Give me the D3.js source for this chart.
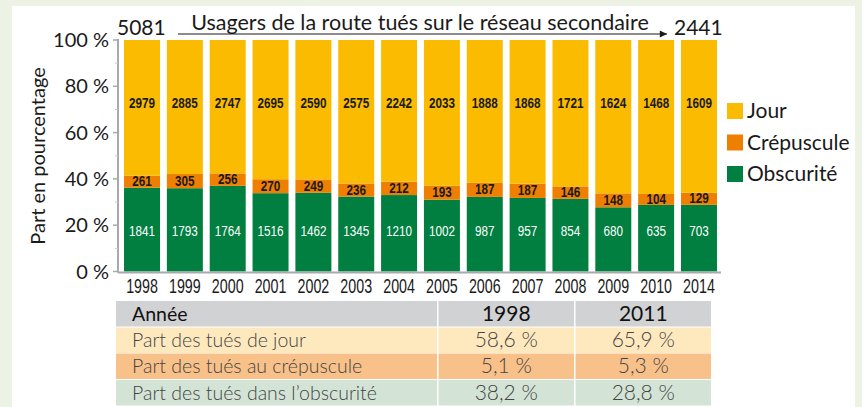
<!DOCTYPE html>
<html>
<head>
<meta charset="utf-8">
<script src="https://cdn.jsdelivr.net/npm/d3@7"></script>
<style>
  body { margin: 0; background: #ecf3e5; }
  svg { display: block; font-family: Lato, "Open Sans", sans-serif; }
</style>
</head>
<body>
<div id="chart"></div>
<script>
// counts of people killed on secondary roads, by light conditions
let years = ['1998','1999','2000','2001','2002','2003','2004','2005','2006','2007','2008','2009','2010','2014'];
let jour = [2979, 2885, 2747, 2695, 2590, 2575, 2242, 2033, 1888, 1868, 1721, 1624, 1468, 1609];
let crepuscule = [261, 305, 256, 270, 249, 236, 212, 193, 187, 187, 146, 148, 104, 129];
let obscurite = [1841, 1793, 1764, 1516, 1462, 1345, 1210, 1002, 987, 957, 854, 680, 635, 703];

let legendLabels = ['Jour', 'Crépuscule', 'Obscurité'];
let yTicks = [0, 20, 40, 60, 80, 100];
let yMinorTicks = [10, 30, 50, 70, 90];

let tableHeader = ['Année', '1998', '2011'];
let tableLabels = ['Part des tués de jour', 'Part des tués au crépuscule', 'Part des tués dans l\u2019obscurité'];
let table1998 = ['58,6 %', '5,1 %', '38,2 %'];
let table2011 = ['65,9 %', '5,3 %', '28,8 %'];

let title = 'Usagers de la route tués sur le réseau secondaire';

let width = 862;
let height = 407;
let colors = ['#fabb00', '#ee7f00', '#007f40'];
let rowColors = ['#fee9bf', '#f8c18a', '#d3e4d6'];
let narrow = '"Liberation Sans Narrow", "Liberation Sans", sans-serif';

let svg = d3.select('#chart')
  .append('svg')
  .attr('width', width)
  .attr('height', height);

// white panel
svg.append('rect')
  .attr('x', 12).attr('y', 6)
  .attr('width', 843).attr('height', 410)
  .style('fill', '#ffffff');

// stack the data as percentages
let rows = years.map((y, i) => {
  let total = jour[i] + crepuscule[i] + obscurite[i];
  return {
    year: y, total: total,
    obscurite: obscurite[i] / total * 100,
    crepuscule: crepuscule[i] / total * 100,
    jour: jour[i] / total * 100,
    counts: [obscurite[i], crepuscule[i], jour[i]]
  };
});

let keys = ['obscurite', 'crepuscule', 'jour'];
let stack = d3.stack().keys(keys)(rows);

let x = d3.scaleBand()
  .domain(years)
  .range([120.6, 720.4])
  .paddingInner(0.16)
  .paddingOuter(0.08);

let y = d3.scaleLinear()
  .domain([0, 100])
  .range([271.5, 40]);

let segColor = { obscurite: colors[2], crepuscule: colors[1], jour: colors[0] };

svg.append('g')
  .selectAll('g')
  .data(stack)
  .enter()
  .append('g')
  .style('fill', d => segColor[d.key])
  .selectAll('rect')
  .data(d => d)
  .enter()
  .append('rect')
  .attr('x', d => x(d.data.year))
  .attr('y', d => y(d[1]))
  .attr('width', x.bandwidth())
  .attr('height', d => y(d[0]) - y(d[1]));

// bar value labels, squeezed horizontally to look condensed
let cx = d => x(d.year) + x.bandwidth() / 2;
let barLabel = (sel, idx, yPos) => sel
  .attr('transform', d => 'translate(' + cx(d) + ',' + yPos(d) + ') scale(0.78,1)')
  .attr('text-anchor', 'middle')
  .attr('font-family', narrow)
  .attr('font-weight', 'bold')
  .attr('font-size', '15px')
  .text(d => d.counts[idx]);

let labels = svg.append('g');

labels.selectAll('.lab-jour')
  .data(rows)
  .enter()
  .append('text')
  .call(barLabel, 2, d => y(72.8) + 5.5)
  .style('fill', '#1a1a1a');

labels.selectAll('.lab-crep')
  .data(rows)
  .enter()
  .append('text')
  .call(barLabel, 1, d => y(d.obscurite + d.crepuscule / 2) + 4.5)
  .style('fill', '#1a1a1a');

labels.selectAll('.lab-obs')
  .data(rows)
  .enter()
  .append('text')
  .call(barLabel, 0, d => y(17.6) + 5.5)
  .attr('font-weight', 'normal')
  .style('fill', '#ffffff');

// y axis
let axisColor = '#a7a9ac';
let yAxis = svg.append('g');
yAxis.append('line')
  .attr('x1', 118).attr('x2', 118)
  .attr('y1', y(100) - 1).attr('y2', y(0) + 1)
  .style('stroke', axisColor).style('stroke-width', 2);

yAxis.selectAll('.major')
  .data(yTicks)
  .enter()
  .append('line')
  .attr('x1', 113).attr('x2', 118)
  .attr('y1', d => y(d)).attr('y2', d => y(d))
  .style('stroke', axisColor).style('stroke-width', 1.5);

yAxis.selectAll('.minor')
  .data(yMinorTicks)
  .enter()
  .append('line')
  .attr('x1', 115).attr('x2', 118)
  .attr('y1', d => y(d)).attr('y2', d => y(d))
  .style('stroke', '#c9cacc').style('stroke-width', 1);

yAxis.selectAll('text')
  .data(yTicks)
  .enter()
  .append('text')
  .attr('x', 109)
  .attr('y', d => y(d) + 7)
  .attr('text-anchor', 'end')
  .attr('font-size', '20px')
  .style('fill', '#1a1a1a')
  .text(d => d + ' %');

// x axis line
svg.append('line')
  .attr('x1', 118).attr('x2', 721)
  .attr('y1', y(0) + 1).attr('y2', y(0) + 1)
  .style('stroke', axisColor).style('stroke-width', 2);

svg.append('g')
  .selectAll('text')
  .data(years)
  .enter()
  .append('text')
  .attr('transform', d => 'translate(' + (x(d) + x.bandwidth() / 2) + ',293) scale(0.68,1)')
  .attr('text-anchor', 'middle')
  .attr('font-family', narrow)
  .attr('font-size', '21px')
  .style('fill', '#1a1a1a')
  .text(d => d);

// y axis title
svg.append('text')
  .attr('transform', 'translate(45,156) rotate(-90)')
  .attr('text-anchor', 'middle')
  .attr('font-size', '20px')
  .style('fill', '#1a1a1a')
  .text('Part en pourcentage');

// top title with arrow and totals
svg.append('defs').append('marker')
  .attr('id', 'arrow')
  .attr('viewBox', '0 0 10 10')
  .attr('refX', 10).attr('refY', 5)
  .attr('markerWidth', 8).attr('markerHeight', 6)
  .attr('orient', 'auto')
  .append('path')
  .attr('d', 'M0,0 L10,5 L0,10 z')
  .style('fill', '#1a1a1a');

svg.append('line')
  .attr('x1', 178).attr('x2', 667)
  .attr('y1', 34).attr('y2', 34)
  .style('stroke', '#1a1a1a').style('stroke-width', 1.2)
  .attr('marker-end', 'url(#arrow)');

svg.append('text')
  .attr('x', 420).attr('y', 30)
  .attr('text-anchor', 'middle')
  .attr('font-size', '21.5px')
  .style('fill', '#1a1a1a')
  .text(title);

svg.append('text')
  .attr('x', 117).attr('y', 35)
  .attr('font-size', '21px')
  .style('fill', '#1a1a1a')
  .text(rows[0].total);

svg.append('text')
  .attr('x', 674).attr('y', 35)
  .attr('font-size', '21px')
  .style('fill', '#1a1a1a')
  .text(rows[rows.length - 1].total);

// legend
let legend = svg.append('g');
let legendItems = legend.selectAll('g')
  .data(legendLabels)
  .enter()
  .append('g')
  .attr('transform', (d, i) => 'translate(727,' + (103 + i * 31.5) + ')');

legendItems.append('rect')
  .attr('width', 16).attr('height', 16)
  .style('fill', (d, i) => colors[i]);

legendItems.append('text')
  .attr('x', 20).attr('y', 15)
  .attr('font-size', '21px')
  .style('fill', '#1a1a1a')
  .text(d => d);

// table below the chart
let colX = [116, 438.5, 575.5];
let colW = [321, 135.5, 135.5];
let rowY = [301, 327.5, 353.5, 380];
let rowH = 25.5;

let tableRows = [tableHeader].concat(tableLabels.map((l, i) => [l, table1998[i], table2011[i]]));
let tableFill = ['#d1d2d4'].concat(rowColors);

let table = svg.append('g');
tableRows.forEach((r, ri) => {
  r.forEach((cell, ci) => {
    table.append('rect')
      .attr('x', colX[ci]).attr('y', rowY[ri])
      .attr('width', colW[ci]).attr('height', rowH)
      .style('fill', tableFill[ri]);
    table.append('text')
      .attr('x', ci === 0 ? colX[ci] + 16 : colX[ci] + colW[ci] / 2)
      .attr('y', rowY[ri] + 19.5)
      .attr('text-anchor', ci === 0 ? 'start' : 'middle')
      .attr('font-size', ci === 0 ? '19.5px' : '21px')
      .attr('font-weight', ri === 0 ? 'normal' : '300')
      .style('fill', ri === 0 ? '#111111' : '#454545')
      .text(cell);
  });
});
</script>
</body>
</html>
